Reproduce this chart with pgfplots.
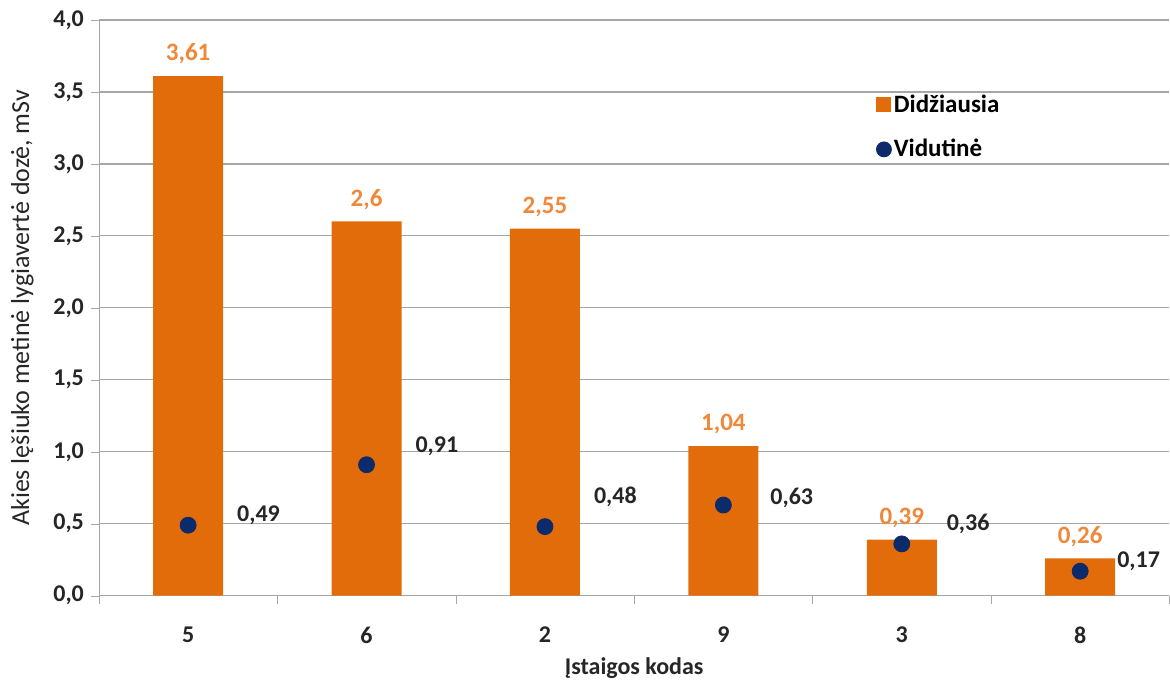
\documentclass[border=0pt]{standalone}
\usepackage{pgfplots}
\pgfplotsset{compat=1.18}
\usepackage{pgfplotstable}
\usepackage{fontspec}
\setmainfont{Carlito}
\definecolor{barc}{HTML}{E36C0A}
\definecolor{barlab}{HTML}{F0883A}
\definecolor{dotc}{HTML}{0D2A6B}
\definecolor{gridc}{HTML}{A6A6A6}

\pgfplotstableread{
x y
0 3.61
1 2.6
2 2.55
3 1.04
4 0.39
5 0.26
}\maxdata

\pgfplotstableread{
x y dx dy
0 0.49 21 5
1 0.91 21 9
2 0.48 21 15
3 0.63 20 3.5
4 0.36 19 10
5 0.17 15 5
}\avgdata

\begin{document}
\begin{tikzpicture}
\begin{axis}[
  scale only axis,
  width=535.5pt, height=288pt,
  xmin=-0.5, xmax=5.5,
  ymin=0, ymax=4,
  axis x line=bottom, axis y line=left,
  axis line style={draw=gridc, -},
  xtick={0,1,2,3,4,5},
  xticklabels={5,6,2,9,3,8},
  minor xtick={-0.5,0.5,1.5,2.5,3.5,4.5,5.5},
  major x tick style={draw=none},
  minor x tick style={draw=gridc},
  minor tick length=4pt,
  major tick length=4pt,
  tick align=outside,
  ytick={0,0.5,...,4},
  ytick style={draw=gridc},
  ymajorgrids,
  grid style={draw=gridc, line width=0.6pt},
  y tick label style={/pgf/number format/.cd, fixed, fixed zerofill, precision=1, use comma, assume math mode=true},
  ticklabel style={font=\bfseries\fontsize{12}{14}\selectfont, text=black!85},
  x tick label style={yshift=-8pt},
  xlabel={Įstaigos kodas},
  ylabel={Akies lęšiuko metinė lygiavertė dozė, mSv},
  xlabel style={font=\bfseries\fontsize{12}{14}\selectfont, text=black!85, yshift=0pt},
  ylabel style={font=\fontsize{13}{15}\selectfont, text=black!85, yshift=3pt},
  clip=false,
  legend style={draw=none, fill=none, at={(0.72,0.885)}, anchor=north west,
    font=\bfseries\fontsize{12.5}{14}\selectfont, row sep=8pt, cells={anchor=west},
    nodes={inner xsep=1pt}},
]
\addplot[ybar, bar width=35pt, fill=barc, draw=none,
  nodes near coords,
  point meta=y,
  every node near coord/.append style={font=\bfseries\fontsize{12.5}{14}\selectfont, text=barlab, anchor=center, yshift=11pt,
    /pgf/number format/.cd, use comma, assume math mode=true},
  legend image code/.code={\fill[barc] (0pt,-3.75pt) rectangle (7.5pt,3.75pt);}
] table[x=x,y=y] {\maxdata};
\addlegendentry{Didžiausia}
\addplot[only marks, mark=*, mark size=4pt, mark options={fill=dotc, draw=dotc},
  nodes near coords,
  point meta=y,
  visualization depends on={\thisrow{dx} \as \dx},
  visualization depends on={\thisrow{dy} \as \dy},
  every node near coord/.append style={font=\bfseries\fontsize{12}{14}\selectfont, text=black!85, anchor=west, xshift=\dx pt, yshift=\dy pt,
    /pgf/number format/.cd, use comma, assume math mode=true},
  legend image code/.code={\fill[dotc] (3.75pt,0pt) circle (3.75pt);}
] table[x=x,y=y] {\avgdata};
\addlegendentry{Vidutinė}
\path (axis description cs:-0.0924,-0.1441) (axis description cs:1,1.0347);
\end{axis}
\end{tikzpicture}
\end{document}
